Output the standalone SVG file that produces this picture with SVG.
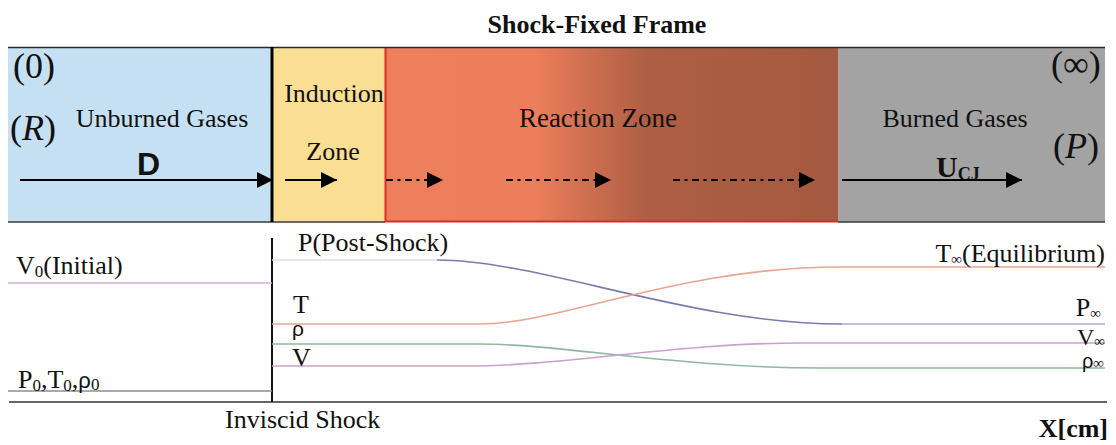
<svg xmlns="http://www.w3.org/2000/svg" width="1116" height="445" viewBox="0 0 1116 445">
<style>
.t{font-family:"Liberation Serif","Times New Roman",serif;fill:#111;}
.s{font-family:"Liberation Sans",Arial,sans-serif;fill:#111;}
.lbl{font-size:26px;}
.big{font-size:36px;}
.arr{stroke:#000;stroke-width:2;fill:none;marker-end:url(#ah);}
.dd{stroke-dasharray:7 4.5 3 4.5;}
.g{fill:none;stroke-width:1.6;}
</style>
<defs>
<marker id="ah" markerUnits="userSpaceOnUse" markerWidth="16" markerHeight="16" refX="16" refY="8" orient="auto">
<path d="M0,0 L16,8 L0,16 z" fill="#000"/>
</marker>
<linearGradient id="rg" x1="385" y1="0" x2="838" y2="0" gradientUnits="userSpaceOnUse">
<stop offset="0" stop-color="#EE7F5C"/>
<stop offset="0.33" stop-color="#EC7E5B"/>
<stop offset="0.58" stop-color="#AE5E44"/>
<stop offset="1" stop-color="#A45A40"/>
</linearGradient>
</defs>
<rect width="1116" height="445" fill="#fff"/>
<text class="t" x="597" y="33" font-size="26" font-weight="bold" text-anchor="middle">Shock-Fixed Frame</text>

<g id="unburned">
<rect x="8" y="47" width="264" height="175" fill="#C6E0F3"/>
<text class="t big" x="13" y="78">(0)</text>
<text class="t big" x="10" y="140">(<tspan font-style="italic">R</tspan>)</text>
<text class="t lbl" x="162" y="127" text-anchor="middle">Unburned Gases</text>
<text class="s" x="137" y="175" font-size="32" font-weight="bold">D</text>
</g>
<g id="induction">
<rect x="273" y="47" width="112" height="175" fill="#F9DE94"/>
<text class="t lbl" x="334" y="102" text-anchor="middle">Induction</text>
<text class="t lbl" x="333" y="160" text-anchor="middle">Zone</text>
</g>
<g id="reaction">
<rect x="385" y="47" width="453" height="175" fill="url(#rg)"/>
<line x1="385" y1="221.5" x2="838" y2="221.5" stroke="#D0302A" stroke-width="2"/>
<line x1="385.5" y1="47" x2="385.5" y2="222" stroke="#E02A20" stroke-width="2"/>
<text class="t" x="598" y="127" font-size="27" text-anchor="middle">Reaction Zone</text>
</g>
<g id="burned">
<rect x="838" y="47" width="267" height="175" fill="#A3A3A3"/>
<text class="t lbl" x="955" y="127" text-anchor="middle">Burned Gases</text>
<text class="t big" x="1051" y="76">(∞)</text>
<text class="t big" x="1053" y="158">(<tspan font-style="italic">P</tspan>)</text>
<text class="t" x="936" y="177" font-size="30" font-weight="bold">U<tspan font-size="18" dy="3">CJ</tspan></text>
</g>
<g id="frame">
<line x1="8" y1="47.5" x2="1105" y2="47.5" stroke="#2A2A2A" stroke-width="1.5"/>
<line x1="8" y1="222" x2="385" y2="222" stroke="#3A3A3A" stroke-width="1.5"/>
<line x1="838" y1="222" x2="1105" y2="222" stroke="#3A3A3A" stroke-width="1.5"/>
<line x1="272" y1="47" x2="272" y2="222" stroke="#000" stroke-width="3"/>
</g>

<g id="connectors">
<path class="arr" d="M20,180 H273"/>
<path class="arr" d="M285,180 H337"/>
<path class="arr dd" d="M386,180 H443"/>
<path class="arr dd" d="M506,180 H611"/>
<path class="arr dd" d="M673,180 H815"/>
<path class="arr" d="M842,180 H1022"/>
</g>

<g id="plot">
<line x1="9" y1="402" x2="1107" y2="402" stroke="#333" stroke-width="1.6"/>
<line x1="272" y1="238" x2="272" y2="402" stroke="#111" stroke-width="2"/>
<line class="g" x1="8" y1="283" x2="272" y2="283" stroke="#D2B2D4"/>
<line class="g" x1="8" y1="391" x2="272" y2="391" stroke="#8C8C8C"/>
<path class="g" d="M272,260 H437" stroke="#DCDCF0"/>
<path class="g" d="M437,260 C540,260 690,324 842,324" stroke="#7A7AB0"/>
<path class="g" d="M842,324 H1105" stroke="#ABABD2"/>
<path class="g" d="M272,324 H480 C560,324 680,267 840,267 H1105" stroke="#E9A592"/>
<path class="g" d="M272,344 H480 C560,344 680,368 820,368 H1105" stroke="#8FB8A0"/>
<path class="g" d="M272,366 H470 C560,366 680,343 800,343 H1105" stroke="#C9A2CB"/>
</g>
<g id="plot-labels">
<text class="t lbl" x="298" y="251">P(Post-Shock)</text>
<text class="t lbl" x="16" y="274">V<tspan font-size="17" dy="3">0</tspan><tspan dy="-3">(Initial)</tspan></text>
<text class="t lbl" x="18" y="388">P<tspan font-size="17" dy="3">0</tspan><tspan dy="-3">,T</tspan><tspan font-size="17" dy="3">0</tspan><tspan dy="-3">,</tspan><tspan class="s" font-size="22">ρ</tspan><tspan font-size="17" dy="2">0</tspan></text>
<text class="t lbl" x="293" y="313">T</text>
<text class="s" x="292" y="336" font-size="21">ρ</text>
<text class="t lbl" x="292" y="366">V</text>
<text class="t lbl" x="1105" y="262" text-anchor="end">T<tspan font-size="15" dy="2">∞</tspan><tspan dy="-2">(Equilibrium)</tspan></text>
<text class="t lbl" x="1101" y="316" text-anchor="end">P<tspan font-size="15" dy="2">∞</tspan></text>
<text class="t" x="1105" y="345" font-size="24" text-anchor="end">V<tspan font-size="15" dy="1">∞</tspan></text>
<text class="s" x="1104" y="368" font-size="20" text-anchor="end">ρ<tspan class="t" font-size="15">∞</tspan></text>
<text class="t lbl" x="225" y="428">Inviscid Shock</text>
<text class="t lbl" x="1108" y="437" font-weight="bold" text-anchor="end">X[cm]</text>
</g>
</svg>
